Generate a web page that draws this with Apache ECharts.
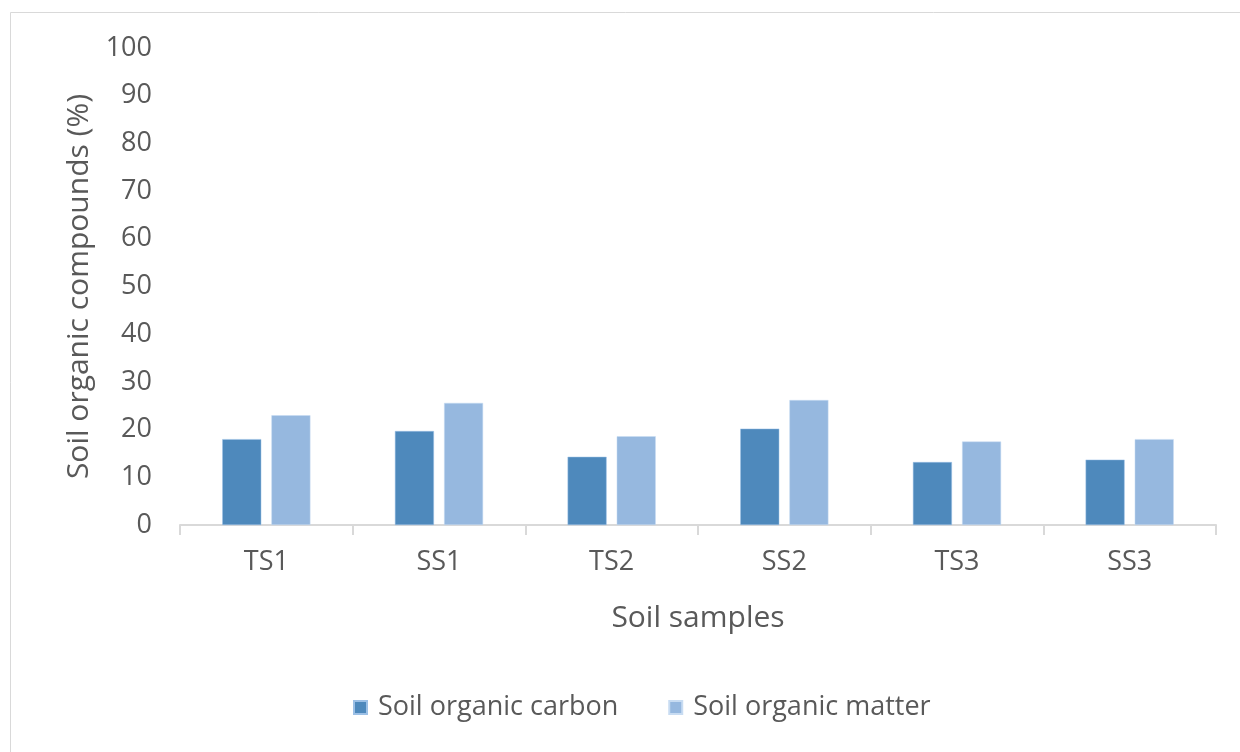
<!DOCTYPE html>
<html><head><meta charset="utf-8">
<script src="https://cdn.jsdelivr.net/npm/echarts@6/dist/echarts.min.js"></script>
<style>html,body{margin:0;padding:0;background:#fff}#c{width:1240px;height:752px}</style>
</head><body><div id="c"></div>
<script>
const categories = ['TS1','SS1','TS2','SS2','TS3','SS3'];
const carbon = [18.0, 19.7, 14.3, 20.2, 13.2, 13.7];
const matter = [23.0, 25.6, 18.6, 26.2, 17.5, 18.0];
const seriesNames = ['Soil organic carbon','Soil organic matter'];
const yTitle = 'Soil organic compounds (%)';
const xTitle = 'Soil samples';

const FONT = 'Open Sans';
const GRAY = '#595959';
const chart = echarts.init(document.getElementById('c'), null, {renderer:'canvas'});
chart.setOption({
  animation:false,
  backgroundColor:'#fff',
  textStyle:{fontFamily:FONT},
  graphic:[{type:'rect',shape:{x:10.5,y:12.5,width:1300,height:800},style:{fill:'none',stroke:'#d9d9d9',lineWidth:1},silent:true}],
  grid:{left:180,right:24,top:48,bottom:227,containLabel:false},
  legend:{
    bottom:26,left:348,itemWidth:13,itemHeight:13,itemGap:50,icon:'rect',
    textStyle:{color:GRAY,fontSize:27,fontFamily:FONT,padding:[0,0,0,6]},
    data:seriesNames
  },
  xAxis:{
    type:'category',data:categories,
    axisLine:{lineStyle:{color:'#d9d9d9',width:2}},
    axisTick:{show:true,length:10,lineStyle:{color:'#d9d9d9',width:2}},
    axisLabel:{color:GRAY,fontSize:27,margin:24,fontFamily:FONT},
    name:xTitle,nameLocation:'middle',nameGap:78,
    nameTextStyle:{color:GRAY,fontSize:30,fontFamily:FONT}
  },
  yAxis:{
    type:'value',min:0,max:100,interval:10,
    axisLine:{show:false},axisTick:{show:false},splitLine:{show:false},
    axisLabel:{color:GRAY,fontSize:27,margin:28,fontFamily:FONT},
    name:yTitle,nameLocation:'middle',nameGap:86,nameRotate:90,
    nameTextStyle:{color:GRAY,fontSize:30,fontFamily:FONT}
  },
  series:[
    {name:seriesNames[0],type:'bar',data:carbon,barWidth:39,barGap:'26%',
     itemStyle:{color:'#4e89bc',borderColor:'#9cc0e6',borderWidth:0.5}},
    {name:seriesNames[1],type:'bar',data:matter,barWidth:39,
     itemStyle:{color:'#96b8df',borderColor:'#c8dcf2',borderWidth:0.5}}
  ]
});
</script></body></html>
